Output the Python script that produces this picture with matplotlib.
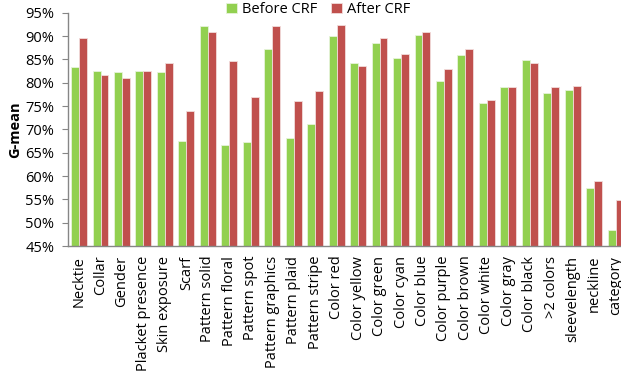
import numpy as np
import matplotlib.pyplot as plt
from matplotlib.ticker import PercentFormatter

categories = ["Necktie", "Collar", "Gender", "Placket presence", "Skin exposure",
              "Scarf", "Pattern solid", "Pattern floral", "Pattern spot",
              "Pattern graphics", "Pattern plaid", "Pattern stripe", "Color red",
              "Color yellow", "Color green", "Color cyan", "Color blue",
              "Color purple", "Color brown", "Color white", "Color gray",
              "Color black", ">2 colors", "sleevelength", "neckline", "category"]
before_crf = [83.4, 82.5, 82.3, 82.6, 82.3, 67.5, 92.1, 66.7, 67.4, 87.3, 68.2, 71.1, 90.0,
              84.3, 88.6, 85.3, 90.2, 80.4, 85.9, 75.6, 79.0, 84.9, 77.9, 78.5, 57.4, 48.4]
after_crf = [89.5, 81.6, 81.1, 82.5, 84.3, 73.9, 90.8, 84.7, 76.9, 92.1, 76.1, 78.3, 92.4,
             83.5, 89.5, 86.2, 90.8, 82.9, 87.2, 76.4, 79.0, 84.2, 79.0, 79.4, 58.9, 54.9]
yticks = np.arange(45, 96, 5)

plt.rcParams['font.family'] = ['Open Sans', 'DejaVu Sans']

fig = plt.figure(figsize=(6.21, 3.72), dpi=100)
ax = fig.add_axes([0.110, 0.3387, 0.8987, 0.627])

x = np.arange(len(categories))
w = 0.37
ax.bar(x - w / 2, before_crf, w, color='#92D050', edgecolor='#e6f3da', linewidth=0.6,
       label='Before CRF')
ax.bar(x + w / 2, after_crf, w, color='#C0504D', edgecolor='#f2dcdb', linewidth=0.6,
       label='After CRF')

ax.set_xlim(-0.5, len(categories) - 0.5)
ax.set_ylim(45, 95)
ax.set_yticks(yticks)
ax.yaxis.set_major_formatter(PercentFormatter(decimals=0))
ax.set_xticks(x)
ax.set_xticklabels(categories, rotation=90, fontsize=10.5)
ax.tick_params(axis='y', labelsize=10.5, length=4, color='#868686', width=0.8, pad=6)
ax.tick_params(axis='x', length=0, pad=7)
ax.set_ylabel('G-mean', fontsize=10.5, fontweight='bold', labelpad=2)

for s in ['top', 'right']:
    ax.spines[s].set_visible(False)
for s in ['left', 'bottom']:
    ax.spines[s].set_color('#868686')
    ax.spines[s].set_linewidth(1)

fig.legend(loc='upper left', bbox_to_anchor=(224 / 621, 1.0), ncol=2, frameon=False,
           fontsize=10.5, handlelength=0.75, handleheight=0.75, handletextpad=0.3,
           columnspacing=1.0, borderaxespad=0, borderpad=0.15)

fig.savefig('out.png', dpi=100)
